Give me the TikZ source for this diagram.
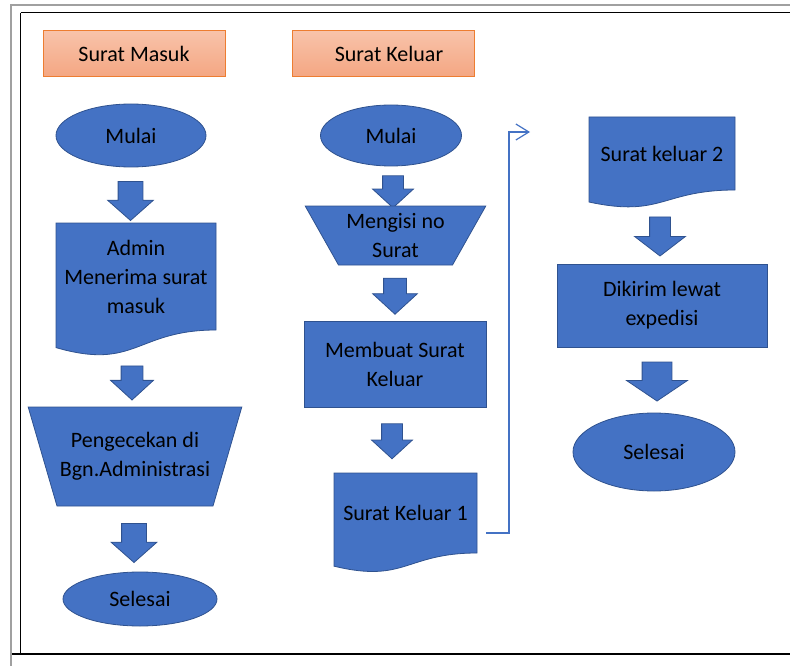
\documentclass[tikz,border=0pt]{standalone}
\usepackage{fontspec}
\setmainfont{Carlito}
\usetikzlibrary{shapes.geometric,shapes.arrows,arrows.meta,calc,backgrounds}

\definecolor{shapeblue}{HTML}{4472C4}
\definecolor{shapeedge}{HTML}{2F528F}
\definecolor{headtop}{HTML}{F8C3AA}
\definecolor{headbottom}{HTML}{F4A682}
\definecolor{headedge}{HTML}{ED7D31}
\definecolor{framegray}{HTML}{A0A0A0}

\begin{document}
\begin{tikzpicture}[
    x=1pt, y=-1pt,
    every node/.style={font=\fontsize{22}{29}\selectfont, align=center, outer sep=0pt, inner sep=0pt},
    header/.style={rectangle, draw=headedge, line width=1pt, top color=headtop, bottom color=headbottom, minimum width=182pt, minimum height=46pt},
    terminal/.style={ellipse, draw=shapeedge, fill=shapeblue, line width=0.8pt},
    process/.style={rectangle, draw=shapeedge, fill=shapeblue, line width=0.8pt},
    manual/.style={trapezium, shape border rotate=180, trapezium stretches=true, draw=shapeedge, fill=shapeblue, line width=0.8pt},
    document/.style={rectangle},
    blockarrow/.style args={#1/#2/#3/#4}{single arrow, shape border rotate=270, draw=shapeedge, fill=shapeblue, line width=0.8pt, inner xsep=#1, inner ysep=0pt, single arrow head extend=#2, minimum height=#3, single arrow tip angle=#4, single arrow head indent=0pt},
    link/.style={draw=shapeblue, line width=1.2pt, -{Straight Barb[length=13pt,width=16pt]}}
  ]
  \useasboundingbox (0,0) rectangle (790,666);

  % page frame
  \draw[framegray, line width=2pt] (10,5) -- (790,5);
  \draw[framegray, line width=2pt] (10.5,4) -- (10.5,666);
  \draw[line width=1pt] (20.5,13) -- (790,13);
  \draw[line width=1pt] (20.5,13) -- (20.5,654);
  \draw[line width=2.5pt] (12,654) -- (790,654);

  % headers
  \node[header] (hdrin) at (134,54) {Surat Masuk};
  \node[header] (hdrout) at (383,54) {\hspace*{12pt}Surat Keluar};

  % surat masuk
  \node[terminal, minimum width=150pt, minimum height=63pt] (start1) at (131,135.5) {Mulai};
  \node[blockarrow=12pt/10.5pt/39pt/97] (ar1) at (130.5,195.5) {};
  \node[document, minimum width=160pt, minimum height=107pt] (adm) at (136,276.5) {Admin\\Menerima surat\\masuk};
  \node[blockarrow=10.5pt/10.5pt/34pt/95] (ar2) at (132,378) {};
  \node[manual, minimum width=214pt, minimum height=99pt, trapezium angle=60] (cek) at (135,456.5) {Pengecekan di\\Bgn.Administrasi};
  \node[blockarrow=12pt/10.5pt/39pt/97] (ar3) at (134,537.5) {};
  \node[terminal, minimum width=154pt, minimum height=54pt] (end1) at (140,599) {Selesai};

  % surat keluar
  \node[terminal, minimum width=141pt, minimum height=61pt] (start2) at (391,135.5) {Mulai};
  \node[blockarrow=10pt/10pt/32pt/95] (ar4) at (393,187) {};
  \node[manual, minimum width=181pt, minimum height=59pt, trapezium angle=57] (isi) at (395.5,235.5) {Mengisi no\\Surat};
  \node[blockarrow=11pt/11pt/36pt/95] (ar5) at (395,291) {};
  \node[process, minimum width=182pt, minimum height=86pt] (buat) at (395,364) {Membuat Surat\\Keluar};
  \node[blockarrow=10pt/10pt/35pt/95] (ar6) at (392,436.5) {};
  \node[document, minimum width=143pt, minimum height=80pt] (sk1) at (405.5,513) {Surat Keluar 1};

  \node[document, minimum width=146pt, minimum height=73pt] (sk2) at (662,153.5) {Surat keluar 2};
  \node[blockarrow=10pt/15pt/39pt/105] (ar7) at (660,232.5) {};
  \node[process, minimum width=210pt, minimum height=83pt] (kirim) at (662,305.5) {Dikirim lewat\\expedisi};
  \node[blockarrow=14.5pt/15.5pt/39pt/112] (ar8) at (657,376.5) {};
  \node[terminal, minimum width=162pt, minimum height=78pt] (end2) at (654,452) {Selesai};

  % document shapes behind the text
  \begin{scope}[on background layer]
    \foreach \d in {adm,sk1,sk2}
      \filldraw[draw=shapeedge, fill=shapeblue, line width=0.8pt]
        (\d.north west) -- (\d.north east) -- (\d.south east)
        .. controls (\d.south) and ($(\d.north)!1.381!(\d.south)$)
        .. ($(\d.north west)!1.1646!(\d.south west)$) -- cycle;
  \end{scope}

  % link to second page of the flow
  \coordinate (bend) at (509,132);
  \coordinate (sk2in) at (530,132);
  \draw[link] ([xshift=9pt,yshift=-20pt]sk1.east) -| (bend) -- (sk2in);
\end{tikzpicture}
\end{document}
